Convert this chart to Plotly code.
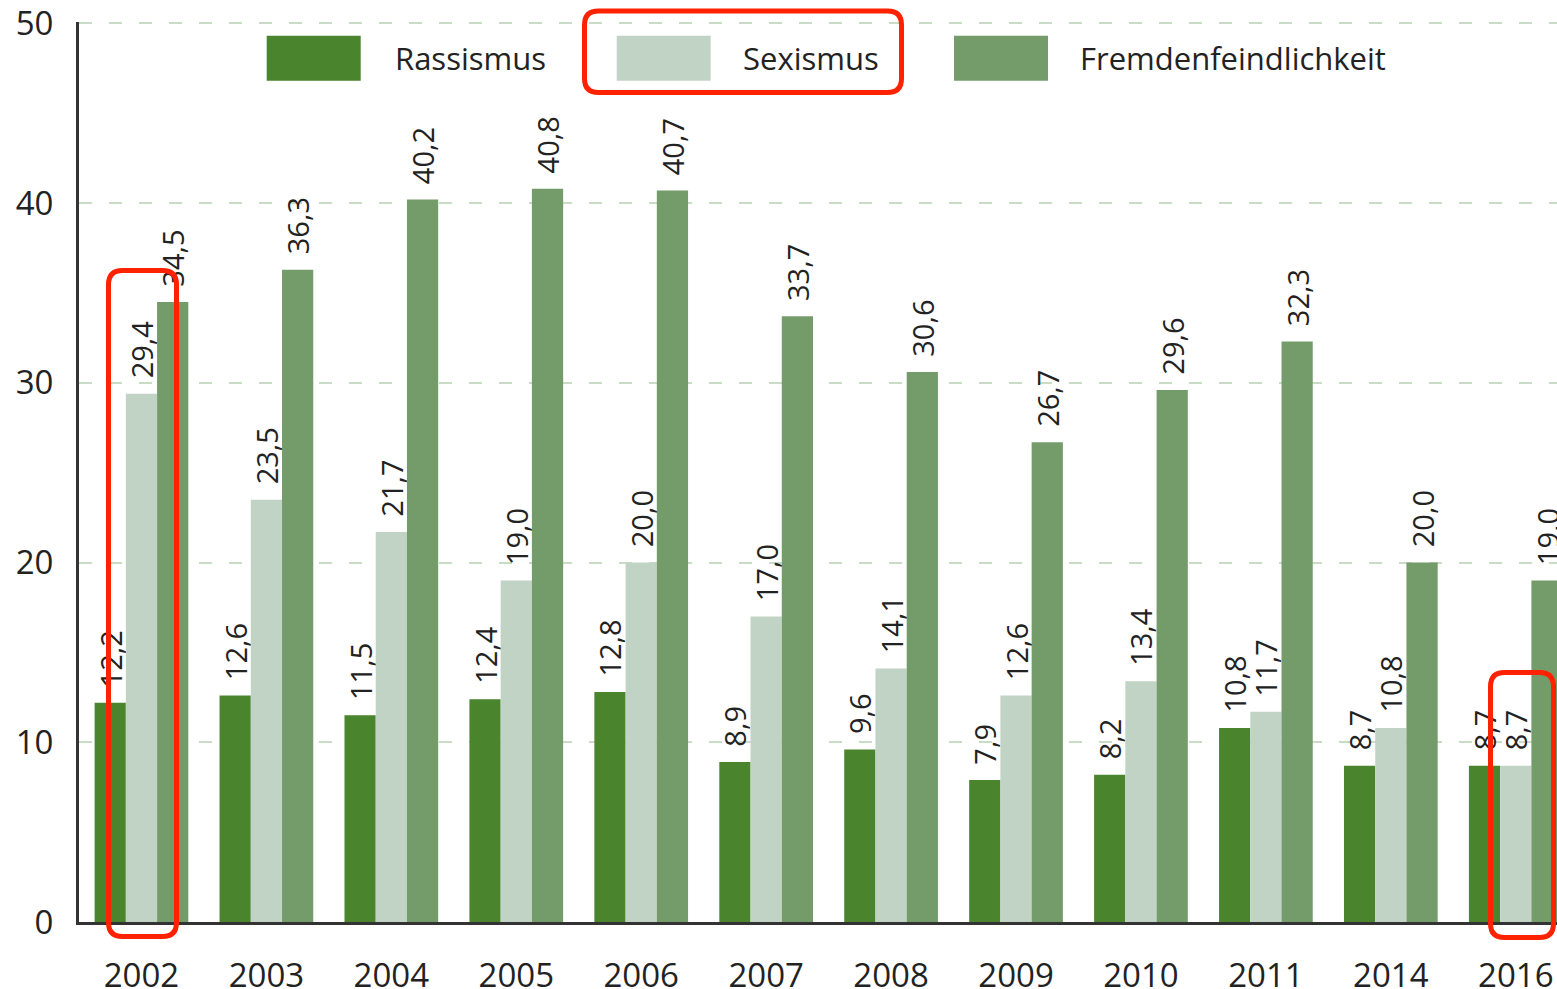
import plotly.graph_objects as go

# data
years = ["2002", "2003", "2004", "2005", "2006", "2007", "2008", "2009", "2010", "2011", "2014", "2016"]
rassismus = [12.2, 12.6, 11.5, 12.4, 12.8, 8.9, 9.6, 7.9, 8.2, 10.8, 8.7, 8.7]
sexismus = [29.4, 23.5, 21.7, 19.0, 20.0, 17.0, 14.1, 12.6, 13.4, 11.7, 10.8, 8.7]
fremdenfeindlichkeit = [34.5, 36.3, 40.2, 40.8, 40.7, 33.7, 30.6, 26.7, 29.6, 32.3, 20.0, 19.0]
y_ticks = [0, 10, 20, 30, 40, 50]

series_names = ["Rassismus", "Sexismus", "Fremdenfeindlichkeit"]
series_colors = ["#4a852e", "#c1d3c4", "#749c6a"]

FONT = "Open Sans"
W, H = 1557, 989
PLOT_LEFT, PLOT_TOP, PLOT_BOTTOM = 79, 22, 922   # page pixels
L, T = PLOT_LEFT, PLOT_TOP
PW, PH = W - PLOT_LEFT, PLOT_BOTTOM - PLOT_TOP
B = H - T - PH


def fmt(v):
    # German decimal comma, with a little space before the label
    return "\u00a0\u2009" + f"{v:.1f}".replace(".", ",")


def px(x, y):
    # page pixels -> paper coordinates
    return (x - PLOT_LEFT) / PW, (PLOT_BOTTOM - y) / PH


def rounded_box(x0, y0, x1, y1, r=14):
    pts = [
        ("M", (x0 + r, y0)), ("L", (x1 - r, y0)), ("Q", (x1, y0), (x1, y0 + r)),
        ("L", (x1, y1 - r)), ("Q", (x1, y1), (x1 - r, y1)),
        ("L", (x0 + r, y1)), ("Q", (x0, y1), (x0, y1 - r)),
        ("L", (x0, y0 + r)), ("Q", (x0, y0), (x0 + r, y0)),
    ]
    parts = []
    for cmd, *coords in pts:
        parts.append(cmd + " ".join("%.5f,%.5f" % px(*c) for c in coords))
    return dict(type="path", xref="paper", yref="paper", path=" ".join(parts) + " Z",
                line=dict(color="#ff2200", width=5), layer="above")


fig = go.Figure()
for name, vals, color in zip(series_names, [rassismus, sexismus, fremdenfeindlichkeit], series_colors):
    fig.add_trace(go.Bar(
        x=years, y=vals, name=name,
        marker=dict(color=color, line=dict(width=0)),
        text=[fmt(v) for v in vals],
        textposition="outside",
        textangle=-90,
        constraintext="none",
        textfont=dict(family=FONT, size=29, color="#222222"),
    ))

# legend drawn by hand (large swatches like the original)
shapes = []
annotations = []
legend_items = [(266.7, 392.7), (616.7, 741), (954, 1078)]
for (sx, tx), name, color in zip(legend_items, series_names, series_colors):
    a = px(sx, 35.7)
    b = px(sx + 94, 80.7)
    shapes.append(dict(type="rect", xref="paper", yref="paper", x0=a[0], y0=a[1], x1=b[0], y1=b[1],
                       fillcolor=color, line=dict(width=0), layer="above"))
    ax, ay = px(tx, 58)
    annotations.append(dict(text=name, xref="paper", yref="paper", x=ax, y=ay, xanchor="left",
                            yanchor="middle", showarrow=False,
                            font=dict(family=FONT, size=31, color="#222222")))

# red highlight boxes
shapes.append(rounded_box(584.5, 11, 901.5, 92.5))
shapes.append(rounded_box(108.5, 270.5, 176.5, 936.5))
shapes.append(rounded_box(1490.5, 672.5, 1553.5, 937.5))

fig.update_layout(
    width=W, height=H,
    margin=dict(l=L, r=0, t=T, b=B, pad=0, autoexpand=False),
    paper_bgcolor="white", plot_bgcolor="white",
    barmode="group", bargap=0.25, bargroupgap=0,
    showlegend=False,
    font=dict(family=FONT, color="#222222"),
    shapes=shapes,
    annotations=annotations,
)

fig.update_xaxes(
    type="category", range=[-0.5, 11.33], automargin=False,
    showline=True, linecolor="#333333", linewidth=3,
    showgrid=False, ticks="outside", ticklen=22, tickcolor="rgba(0,0,0,0)",
    ticklabeloverflow="allow",
    tickfont=dict(family=FONT, size=33, color="#222222"),
)
fig.update_yaxes(
    range=[0, 50.08], tickvals=y_ticks, automargin=False,
    showline=True, linecolor="#333333", linewidth=3,
    showgrid=True, gridcolor="#c9dcc6", gridwidth=2, griddash="13px,17px",
    zeroline=False,
    ticks="outside", ticklen=16, tickcolor="rgba(0,0,0,0)",
    ticklabeloverflow="allow",
    tickfont=dict(family=FONT, size=33, color="#222222"),
)

# drop the default page margin so the figure fills the window exactly
fig.write_html(
    "out.html",
    config={"displayModeBar": False},
    post_script="document.body.style.margin='0';document.body.style.overflow='hidden';",
)
